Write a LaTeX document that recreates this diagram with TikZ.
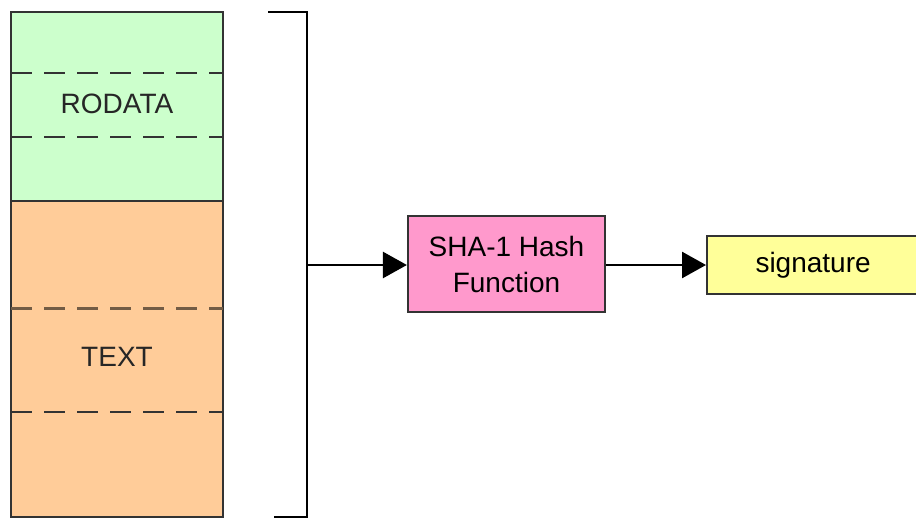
\documentclass[tikz,border=0pt]{standalone}
\usepackage{fontspec}
\setmainfont{Liberation Sans}
\usetikzlibrary{arrows.meta}
\definecolor{rogreen}{HTML}{CCFFCC}
\definecolor{txorange}{HTML}{FFCC99}
\definecolor{hashpink}{HTML}{FF99CC}
\definecolor{sigyellow}{HTML}{FFFF99}
\definecolor{edge}{HTML}{333333}
\tikzset{
  seg/.style={draw=edge, line width=2.2pt},
  divider/.style={draw=edge, line width=2.4pt, dash pattern=on 21pt off 12pt},
  box/.style={draw=edge, line width=2.2pt, inner sep=0pt, align=center, font=\fontsize{28}{36}\selectfont},
  conn/.style={draw=black, line width=2.6pt, -{Triangle[length=24pt,width=26pt]}},
  lbl/.style={font=\fontsize{28}{36}\selectfont, text=black!85}
}
\begin{document}
\begin{tikzpicture}[x=1pt,y=-1pt]
\useasboundingbox (0,0) rectangle (916,519);
% memory column
\path[seg, fill=rogreen] (11,12) rectangle (223,201);
\path[seg, fill=txorange] (11,201) rectangle (223,517);
\draw[divider] (11,73) -- (223,73);
\draw[divider] (11,137) -- (223,137);
\draw[divider, draw=black!55!txorange, line width=3pt] (11,308) -- (223,308);
\draw[divider] (11,412) -- (223,412);
\node[lbl] (rodata) at (117,104) {RODATA};
\node[lbl] (text) at (117,357) {TEXT};
% bracket
\coordinate (bt) at (268,12);
\coordinate (btr) at (307,12);
\coordinate (bbr) at (307,517);
\coordinate (bb) at (274,517);
\coordinate (bm) at (307,265);
\draw[draw=black, line width=2.4pt] (bt) -- (btr) -- (bbr) -- (bb);
% boxes
\node[box, fill=hashpink, minimum width=197pt, minimum height=96pt] (hash) at (506.5,264) {SHA-1 Hash\\Function};
\node[box, fill=sigyellow, minimum width=212pt, minimum height=58pt, anchor=west] (sig) at (706,265) {signature};
% connectors
\draw[conn] (bm) -- (hash.west |- bm);
\draw[conn] (hash.east |- bm) -- (sig.west);
\end{tikzpicture}
\end{document}
